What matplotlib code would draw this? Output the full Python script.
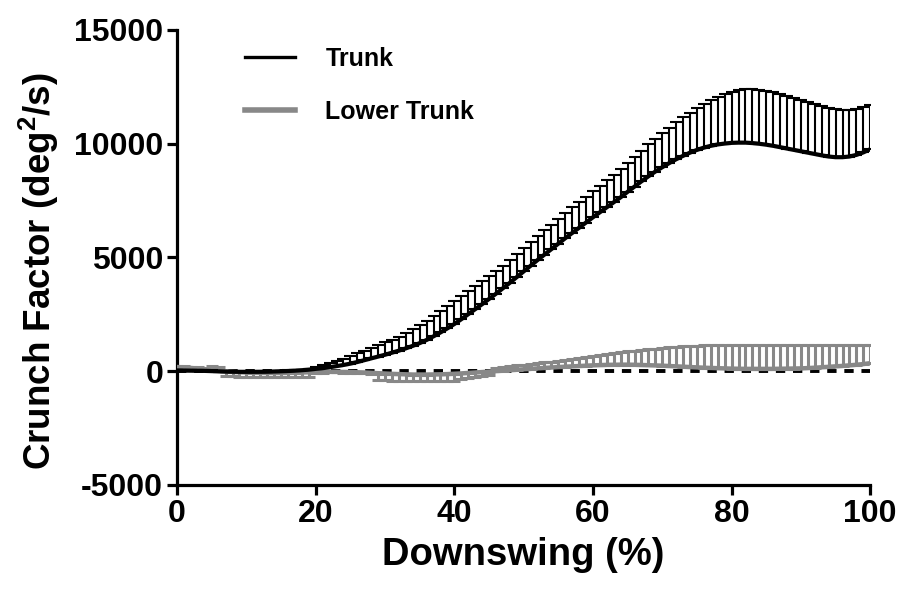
import matplotlib
matplotlib.use("Agg")
import matplotlib.pyplot as plt
from matplotlib.lines import Line2D
import numpy as np

plt.rcParams["font.family"] = ["Liberation Sans", "DejaVu Sans"]
plt.rcParams["font.weight"] = "bold"
plt.rcParams["axes.unicode_minus"] = False
plt.rcParams["mathtext.fontset"] = "custom"
plt.rcParams["mathtext.rm"] = "Liberation Sans:bold"
plt.rcParams["mathtext.bf"] = "Liberation Sans:bold"
plt.rcParams["mathtext.it"] = "Liberation Sans:bold"
plt.rcParams["mathtext.default"] = "bf"

# downswing percentage, 0..100 in 1% steps
downswing = list(range(101))

trunk_mean = [
    30, 25, 20, 15, 10, 0, -10, -20, -25, -30,
    -30, -30, -28, -25, -15, -5, 5, 20, 40, 65,
    100, 130, 170, 220, 270, 330, 400, 480, 560, 640,
    720, 810, 900, 1000, 1110, 1230, 1370, 1530, 1700, 1880,
    2070, 2280, 2500, 2720, 2940, 3170, 3400, 3640, 3880, 4130,
    4380, 4630, 4880, 5120, 5360, 5600, 5840, 6070, 6300, 6530,
    6760, 6980, 7200, 7420, 7640, 7880, 8110, 8340, 8560, 8770,
    8960, 9140, 9310, 9460, 9600, 9720, 9820, 9900, 9960, 10000,
    10030, 10040, 10040, 10020, 9990, 9950, 9900, 9840, 9780, 9720,
    9660, 9600, 9540, 9480, 9430, 9400, 9400, 9430, 9500, 9610,
    9750,
]
trunk_sd = [
    30, 30, 30, 30, 30, 30, 30, 30, 30, 30,
    30, 30, 30, 30, 30, 30, 30, 30, 30, 30,
    80, 130, 180, 230, 280, 330, 380, 420, 460, 500,
    540, 570, 600, 660, 720, 780, 840, 900, 950, 970,
    990, 1000, 1000, 1000, 1000, 1000, 1000, 1000, 1010, 1020,
    1030, 1040, 1050, 1060, 1080, 1100, 1110, 1120, 1130, 1140,
    1150, 1170, 1190, 1210, 1240, 1270, 1310, 1350, 1400, 1450,
    1500, 1560, 1620, 1690, 1760, 1840, 1920, 2000, 2080, 2160,
    2240, 2310, 2350, 2370, 2380, 2380, 2370, 2350, 2330, 2300,
    2270, 2240, 2210, 2180, 2150, 2120, 2090, 2060, 2030, 2000,
    1960,
]

lower_mean = [
    180, 160, 140, 110, 80, 30, 10, -10, -30, -50,
    -60, -70, -75, -80, -80, -80, -75, -70, -60, -50,
    -40, -35, -30, -30, -35, -40, -50, -60, -75, -90,
    -105, -120, -130, -140, -150, -150, -150, -145, -140, -130,
    -115, -100, -80, -60, -40, -20, 0, 20, 40, 60,
    80, 100, 120, 140, 160, 180, 195, 210, 225, 240,
    255, 265, 275, 280, 285, 285, 280, 270, 260, 250,
    240, 225, 210, 195, 180, 165, 150, 140, 130, 120,
    110, 105, 100, 100, 100, 100, 100, 105, 110, 115,
    120, 135, 150, 170, 190, 210, 230, 255, 280, 310,
    350,
]
lower_sd = [
    60, 60, 60, 60, 60, 190, 190, 190, 190, 190,
    190, 190, 190, 190, 190, 190, 190, 190, 190, 190,
    30, 30, 30, 30, 30, 30, 30, 30, 30, 300,
    300, 300, 300, 300, 300, 300, 300, 300, 300, 300,
    300, 250, 220, 190, 160, 130, 120, 150, 170, 190,
    210, 225, 240, 250, 255, 260, 290, 320, 350, 375,
    400, 430, 460, 500, 540, 580, 620, 660, 700, 740,
    780, 820, 860, 900, 930, 960, 990, 1010, 1020, 1030,
    1030, 1035, 1040, 1040, 1040, 1040, 1040, 1035, 1030, 1025,
    1020, 1005, 990, 970, 950, 930, 910, 885, 860, 830,
    790,
]

x_ticks = [0, 20, 40, 60, 80, 100]
y_ticks = [-5000, 0, 5000, 10000, 15000]

GRAY = "#888888"


def one_sided(mean, sd):
    # error bar drawn away from zero, like the original plot
    mean = np.asarray(mean, dtype=float)
    sd = np.asarray(sd, dtype=float)
    up = np.where(mean >= 0, sd, 0)
    down = np.where(mean < 0, sd, 0)
    return [down, up]


fig = plt.figure(figsize=(8.99, 5.95), dpi=100)
ax = fig.add_axes([0.197, 0.185, 0.771, 0.765])

ax.plot([0, 100], [0, 0], color="black", lw=2.8, ls=(0, (2.4, 2.0)), zorder=2)

ax.errorbar(downswing, lower_mean, yerr=one_sided(lower_mean, lower_sd),
            color=GRAY, lw=3.2, elinewidth=2.2, capsize=4, capthick=2.2, zorder=3)
ax.errorbar(downswing, trunk_mean, yerr=one_sided(trunk_mean, trunk_sd),
            color="black", lw=3.0, elinewidth=1.5, capsize=4, capthick=1.5, zorder=4)

ax.set_xlim(0, 100)
ax.set_ylim(-5000, 15000)
ax.set_xticks(x_ticks)
ax.set_yticks(y_ticks)
for side in ("top", "right"):
    ax.spines[side].set_visible(False)
for side in ("left", "bottom"):
    ax.spines[side].set_linewidth(2.3)
ax.tick_params(direction="out", length=7, width=2.3, labelsize=23, pad=3)
for lbl in ax.get_xticklabels() + ax.get_yticklabels():
    lbl.set_fontweight("bold")

ax.set_xlabel("Downswing (%)", fontsize=27.5, fontweight="bold", labelpad=6)
ax.set_ylabel(r"Crunch Factor (deg$^{2}$/s)", fontsize=26.5, fontweight="bold")
ax.yaxis.set_label_coords(-0.168, 0.47)

handles = [Line2D([], [], color="black", lw=2.4),
           Line2D([], [], color=GRAY, lw=4.0)]
ax.legend(handles, ["Trunk", "Lower Trunk"], loc="upper left", bbox_to_anchor=(0.066, 1.012),
          frameon=False, fontsize=18, handlelength=2.0, handletextpad=1.2,
          labelspacing=1.15)

fig.savefig("out.png", dpi=100)
